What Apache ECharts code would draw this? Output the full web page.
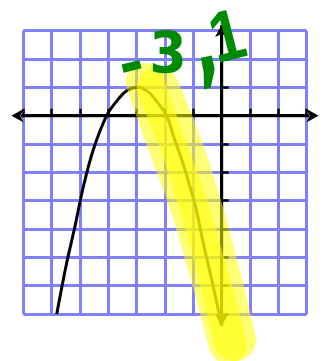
<!DOCTYPE html>
<html>
<head>
<meta charset="utf-8">
<script src="https://cdn.jsdelivr.net/npm/echarts@6/dist/echarts.min.js"></script>
<style>
  html, body { margin: 0; padding: 0; background: #ffffff; }
  #chart { width: 327px; height: 361px; }
</style>
</head>
<body>
<div id="chart"></div>
<script>
// Graph-paper window: x and y both run from -7 to 3, one square per unit
const xRange = [-7, 3];
const yRange = [-7, 3];

// Hand-drawn downward parabola with its vertex at (-3, 1)
const curveX = [-5.82, -5.47, -5.18, -4.88, -4.53, -4.06, -3.7, -3.35, -2.95, -2.6, -2.35, -1.94, -1.71, -1.41, -1.12, -0.9, -0.65, -0.35, -0.12, -0.03];
const curveY = [-7.0, -5.2, -3.92, -2.5, -1.2, 0, 0.52, 0.88, 1.0, 0.85, 0.58, 0, -0.7, -1.55, -2.5, -3.3, -4.5, -5.8, -6.86, -7.35];

// Two highlighter strokes running down the right-hand branch
const markerAX = [-2.71, -2.0, -1.22, -0.59, -0.06, 0.22];
const markerAY = [1.19, -0.86, -2.98, -5.09, -7.03, -8.09];
const markerBX = [-2.25, -1.5, -0.8, -0.22, 0.22, 0.47];
const markerBY = [0.98, -0.86, -2.98, -5.09, -6.86, -7.92];

// Reach of the x and y axes past the grid (arrowheads sit at these points)
const xAxisReach = [-7.42, 3.42];
const yAxisReach = [3.2, -7.42];

// Vertex label written next to the curve
const vertexLabel = ['-', '3', ',', '1'];

const pairs = (xs, ys) => xs.map((x, i) => [x, ys[i]]);

const chart = echarts.init(document.getElementById('chart'), null, {
  renderer: 'canvas', width: 327, height: 361
});

const gridBlue = '#8080ff';
const ink = '#000000';
const marker = 'rgba(255, 255, 0, 0.55)';
const green = '#008a00';

function axisCfg(range) {
  return {
    type: 'value',
    min: range[0],
    max: range[1],
    interval: 1,
    axisLine: { show: true, onZero: true, lineStyle: { color: ink, width: 3 } },
    axisTick: { show: true, inside: true, length: 7, lineStyle: { color: ink, width: 2.5 } },
    axisLabel: { show: false },
    splitLine: { show: true, lineStyle: { color: gridBlue, width: 3 } }
  };
}

const arrowItem = (value, rotate) => ({
  value: value,
  symbol: 'arrow',
  symbolSize: [10, 12],
  symbolRotate: rotate
});

const markerStroke = (data, width) => ({
  type: 'line',
  data: data,
  smooth: 0.4,
  symbol: 'none',
  clip: false,
  silent: true,
  z: 6,
  lineStyle: { color: marker, width: width, cap: 'round', join: 'round' },
  emphasis: { disabled: true }
});

const labelStyle = (text, x, y, size, family, rot, sx, sy) => ({
  type: 'text',
  z: 100,
  x: x,
  y: y,
  rotation: rot,
  scaleX: sx,
  scaleY: sy,
  style: {
    text: text,
    x: 0,
    y: 0,
    fill: green,
    font: 'bold ' + size + 'px ' + family,
    align: 'center',
    verticalAlign: 'middle'
  }
});

chart.setOption({
  animation: false,
  grid: { left: 23.3, right: 20.3, top: 30.7, bottom: 47, show: false },
  xAxis: axisCfg(xRange),
  yAxis: axisCfg(yRange),
  series: [
    {
      // x axis, extended past the grid with arrowheads
      type: 'line',
      data: [arrowItem([xAxisReach[0], 0], 90), arrowItem([xAxisReach[1], 0], -90)],
      clip: false, silent: true, z: 3,
      showSymbol: true,
      itemStyle: { color: ink },
      lineStyle: { color: ink, width: 3 },
      emphasis: { disabled: true }
    },
    {
      // y axis, extended past the grid with arrowheads
      type: 'line',
      data: [arrowItem([0, yAxisReach[0]], 0), arrowItem([0, yAxisReach[1]], 180)],
      clip: false, silent: true, z: 3,
      showSymbol: true,
      itemStyle: { color: ink },
      lineStyle: { color: ink, width: 3 },
      emphasis: { disabled: true }
    },
    {
      type: 'line',
      data: pairs(curveX, curveY),
      smooth: 0.35,
      symbol: 'none',
      clip: false,
      silent: true,
      z: 4,
      lineStyle: { color: ink, width: 3 },
      emphasis: { disabled: true }
    },
    markerStroke(pairs(markerAX, markerAY), 38),
    markerStroke(pairs(markerBX, markerBY), 42)
  ],
  graphic: [
    labelStyle(vertexLabel[0], 132, 68, 60, '"DejaVu Sans"', 0.25, 1, 1),
    labelStyle(vertexLabel[1], 168, 58, 54, '"DejaVu Sans"', 0, 1, 1.05),
    labelStyle(vertexLabel[2], 205, 50, 64, '"DejaVu Sans"', 0.2, 1, 1.5),
    labelStyle(vertexLabel[3], 228, 40, 72, '"Liberation Sans"', 0.25, 0.85, 1)
  ]
});
</script>
</body>
</html>
